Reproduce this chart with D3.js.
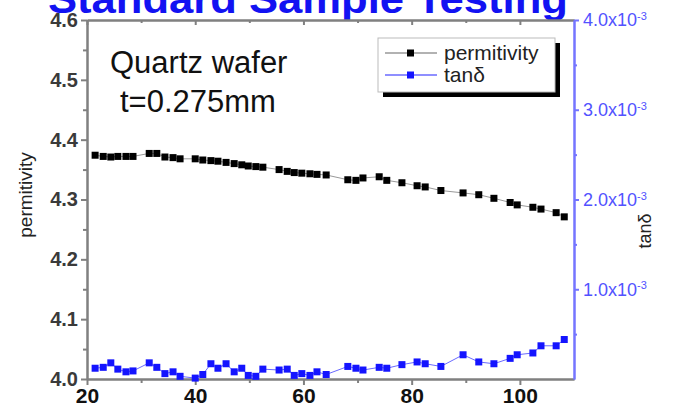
<!doctype html>
<html>
<head>
<meta charset="utf-8"/>
<script src="https://cdnjs.cloudflare.com/ajax/libs/d3/7.8.5/d3.min.js"></script>
<style>
  body { margin: 0; background: #fff; }
  svg { display: block; font-family: Arial, "Liberation Sans", sans-serif; }
  .axis path, .axis line { stroke: #808080; stroke-width: 2px; }
  .axis.right path, .axis.right line { stroke: #7575ff; }
</style>
</head>
<body>
<svg width="675" height="412"></svg>
<script>
// frequency (x) and the two measured series
var freq = [21.5,23.0,24.4,25.7,27.2,28.5,31.5,32.9,34.4,35.9,37.2,40.0,41.4,42.9,44.2,45.7,47.2,48.6,49.8,51.2,52.5,
  55.5,57.0,58.3,59.7,61.2,62.5,64.2,68.2,69.7,71.0,74.0,75.4,78.2,81.0,82.5,85.4,89.5,92.4,95.2,98.2,99.5,102.4,103.9,106.7,108.2];
var permitivity = [4.374,4.372,4.371,4.372,4.372,4.372,4.377,4.377,4.371,4.370,4.368,4.368,4.366,4.365,4.364,4.362,4.360,4.358,4.356,4.355,4.354,
  4.350,4.347,4.345,4.344,4.343,4.342,4.341,4.333,4.332,4.336,4.338,4.332,4.328,4.323,4.321,4.315,4.311,4.308,4.302,4.295,4.291,4.287,4.284,4.278,4.271];
// tan delta in units of 1e-3
var tanD = [0.12,0.13,0.18,0.11,0.08,0.09,0.18,0.13,0.06,0.08,0.03,0.01,0.05,0.17,0.12,0.17,0.08,0.12,0.04,0.03,0.11,
  0.10,0.11,0.04,0.06,0.04,0.08,0.05,0.14,0.12,0.10,0.13,0.12,0.16,0.19,0.17,0.14,0.27,0.19,0.17,0.23,0.27,0.29,0.37,0.37,0.44];

var xTicks = [20,40,60,80,100], xMinor = [30,50,70,90];
var yTicks = [4.0,4.1,4.2,4.3,4.4,4.5,4.6], yMinor = [4.05,4.15,4.25,4.35,4.45,4.55];
var y2Ticks = [1,2,3,4], y2Minor = [0.5,1.5,2.5,3.5];

var svg = d3.select("svg");
var x = d3.scaleLinear().domain([20,110]).range([87,574]);
var y = d3.scaleLinear().domain([4.0,4.6]).range([379,20]);
var y2 = d3.scaleLinear().domain([0,4]).range([379,20]);

// title, cut off by the top edge
svg.append("text")
  .attr("x", 48).attr("y", 13)
  .attr("textLength", 520).attr("lengthAdjust", "spacingAndGlyphs")
  .style("font-size", "40px").style("font-weight", "bold").style("fill", "#1212f2")
  .text("Standard Sample Testing");

// top frame with inward ticks
svg.append("g").attr("class", "axis").attr("transform", "translate(0,20)")
  .call(d3.axisBottom(x).tickValues(xTicks).tickSize(5).tickSizeOuter(0).tickFormat(""));
svg.append("g").attr("class", "axis").attr("transform", "translate(0,20)")
  .call(d3.axisBottom(x).tickValues(xMinor).tickSize(3).tickSizeOuter(0).tickFormat(""));

// bottom axis
var xa = svg.append("g").attr("class", "axis").attr("transform", "translate(0,379)")
  .call(d3.axisBottom(x).tickValues(xTicks).tickSize(6).tickSizeOuter(0).tickPadding(3));
xa.selectAll("text").style("font-size", "21px").style("font-weight", "bold").style("fill", "#111");
svg.append("g").attr("class", "axis").attr("transform", "translate(0,379)")
  .call(d3.axisBottom(x).tickValues(xMinor).tickSize(4).tickSizeOuter(0).tickFormat(""));

// left axis
var ya = svg.append("g").attr("class", "axis").attr("transform", "translate(87,0)")
  .call(d3.axisLeft(y).tickValues(yTicks).tickSize(6).tickSizeOuter(0).tickPadding(3).tickFormat(d3.format(".1f")));
ya.selectAll("text").style("font-size", "20px").style("font-weight", "bold").style("fill", "#3a3a3a");
svg.append("g").attr("class", "axis").attr("transform", "translate(87,0)")
  .call(d3.axisLeft(y).tickValues(yMinor).tickSize(4).tickSizeOuter(0).tickFormat(""));

// right axis (tan delta)
var y2a = svg.append("g").attr("class", "axis right").attr("transform", "translate(574,0)")
  .call(d3.axisRight(y2).tickValues(y2Ticks).tickSize(5).tickSizeOuter(0).tickPadding(4));
y2a.selectAll("text").style("font-size", "18px").style("fill", "#5252ff")
  .each(function(d) {
    var t = d3.select(this).text(d.toFixed(1) + "x10");
    t.append("tspan").attr("dy", "-0.55em").style("font-size", "11px").text("-3");
  });
svg.append("g").attr("class", "axis right").attr("transform", "translate(574,0)")
  .call(d3.axisRight(y2).tickValues(y2Minor).tickSize(3).tickSizeOuter(0).tickFormat(""));

// axis titles
svg.append("text").attr("transform", "translate(32,195) rotate(-90)")
  .style("text-anchor", "middle").style("font-size", "19px").style("fill", "#222")
  .text("permitivity");
svg.append("text").attr("transform", "translate(651,231) rotate(-90)")
  .style("text-anchor", "middle").style("font-size", "18px").style("fill", "#222")
  .text("tanδ");

// series
var permLine = d3.line().x((d, i) => x(freq[i])).y(d => y(d));
var tanLine = d3.line().x((d, i) => x(freq[i])).y(d => y2(d));

svg.append("path").datum(permitivity).attr("d", permLine)
  .style("fill", "none").style("stroke", "#999").style("stroke-width", 1);
svg.append("g").selectAll("rect").data(permitivity).enter().append("rect")
  .attr("x", (d, i) => x(freq[i]) - 3.5).attr("y", d => y(d) - 3.5)
  .attr("width", 7).attr("height", 7).style("fill", "#000");

svg.append("path").datum(tanD).attr("d", tanLine)
  .style("fill", "none").style("stroke", "#6a6aff").style("stroke-width", 1);
svg.append("g").selectAll("rect").data(tanD).enter().append("rect")
  .attr("x", (d, i) => x(freq[i]) - 3.5).attr("y", d => y2(d) - 3.5)
  .attr("width", 7).attr("height", 7).style("fill", "#1414ff");

// sample annotation
svg.append("text").attr("x", 110).attr("y", 73).style("font-size", "31px").style("fill", "#111").text("Quartz wafer");
svg.append("text").attr("x", 120).attr("y", 112).style("font-size", "31px").style("fill", "#111").text("t=0.275mm");

// legend
var lg = svg.append("g");
lg.append("rect").attr("x", 383).attr("y", 43).attr("width", 177).attr("height", 54).style("fill", "#000");
lg.append("rect").attr("x", 378).attr("y", 38).attr("width", 177).attr("height", 54)
  .style("fill", "#fff").style("stroke", "#bbb").style("stroke-width", 1);
var legendItems = [
  {name: "permitivity", line: "#999", mark: "#000", y: 53},
  {name: "tanδ", line: "#6a6aff", mark: "#1414ff", y: 75}
];
legendItems.forEach(function(it) {
  lg.append("line").attr("x1", 385).attr("x2", 437).attr("y1", it.y).attr("y2", it.y)
    .style("stroke", it.line).style("stroke-width", 1.5);
  lg.append("rect").attr("x", 407).attr("y", it.y - 3.5).attr("width", 7).attr("height", 7).style("fill", it.mark);
  lg.append("text").attr("x", 444).attr("y", it.y).attr("dy", "0.35em")
    .style("font-size", "21px").style("fill", "#222").text(it.name);
});
</script>
</body>
</html>
